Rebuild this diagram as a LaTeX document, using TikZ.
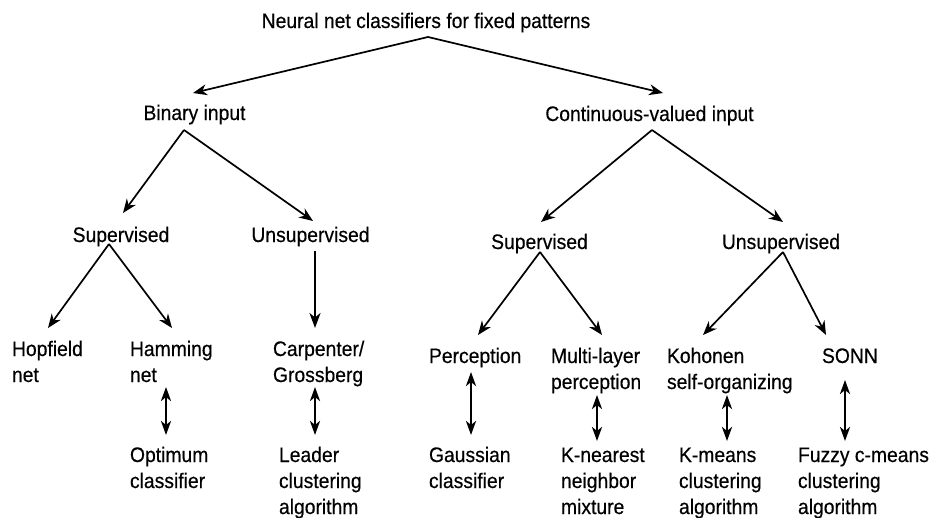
\documentclass[tikz,border=0pt]{standalone}
\usepackage{fontspec}
\setmainfont{Liberation Sans}[FakeStretch=0.92,FakeBold=0.4]
\usetikzlibrary{calc,arrows.meta}
\begin{document}
\begin{tikzpicture}[x=1pt,y=-1pt,
  lbl/.style={inner sep=0pt,outer sep=0pt,font=\fontsize{21}{26}\selectfont},
  mid/.style={lbl,anchor=base},
  % multi-line labels are anchored at the baseline of their last line
  leaf/.style={lbl,anchor=base west,align=left},
  tree/.style={line width=1.7pt,-{Stealth[length=14pt,width=11pt,inset=4.5pt]}},
  down/.style={line width=2.4pt,-{Stealth[length=15pt,width=11pt,inset=4.5pt]}},
  equiv/.style={line width=2.6pt,{Stealth[length=14pt,width=10pt,inset=4pt]}-{Stealth[length=14pt,width=10pt,inset=4pt]}}]
\useasboundingbox (0,0) rectangle (936,517);
\fill[white] (0,0) rectangle (936,517);

% level 0 and 1
\node[mid] (root) at (426,28) {Neural net classifiers for fixed patterns};
\node[mid] (bin)  at (194.5,120) {Binary input};
\node[mid] (cont) at (649.5,121) {Continuous-valued input};

% level 2
\node[mid] (lsup) at (121,242) {Supervised};
\node[mid] (luns) at (310.5,242) {Unsupervised};
\node[mid] (rsup) at (539.5,249) {Supervised};
\node[mid] (runs) at (781,249) {Unsupervised};

% level 3: neural classifiers
\node[leaf] (hop)  at (12,382)  {Hopfield\\net};
\node[leaf] (ham)  at (130,382) {Hamming\\net};
\node[leaf] (car)  at (273,382) {Carpenter/\\Grossberg};
\node[leaf] (per)  at (429,363) {Perception};
\node[leaf] (mlp)  at (551,389) {Multi-layer\\perception};
\node[leaf] (koh)  at (667,389) {Kohonen\\self-organizing};
\node[leaf] (sonn) at (822,363) {SONN};

% level 4: classical counterparts
\node[leaf] (opt) at (130,488) {Optimum\\classifier};
\node[leaf] (lea) at (279,514) {Leader\\clustering\\algorithm};
\node[leaf] (gau) at (429,488) {Gaussian\\classifier};
\node[leaf] (knn) at (561,514) {K-nearest\\neighbor\\mixture};
\node[leaf] (kme) at (679,514) {K-means\\clustering\\algorithm};
\node[leaf] (fcm) at (798,514) {Fuzzy c-means\\clustering\\algorithm};

% tree connectors
\draw[tree] ($(root.base)+(2,9)$) -- ($(bin.base)+(-1.5,-27)$);
\draw[tree] ($(root.base)+(2,9)$) -- ($(cont.base)+(13.5,-28)$);
\draw[tree] ($(bin.base)+(-10.5,10)$) -- ($(lsup.base)+(2,-29)$);
\draw[tree] ($(bin.base)+(-10.5,10)$) -- ($(luns.base)+(2.5,-21)$);
\draw[tree] ($(cont.base)+(2.5,9)$) -- ($(rsup.base)+(1.5,-27)$);
\draw[tree] ($(cont.base)+(2.5,9)$) -- ($(runs.base)+(2,-27)$);
\draw[tree] ($(lsup.base)+(-12,2)$) -- ($(hop.base west)+(36,-54)$);
\draw[tree] ($(lsup.base)+(-12,2)$) -- ($(ham.base west)+(42,-54)$);
\draw[down] ($(luns.base)+(4.5,9)$) -- ($(car.base west)+(42,-54)$);
\draw[tree] ($(rsup.base)+(0.5,3)$) -- ($(per.base west)+(49,-28)$);
\draw[tree] ($(rsup.base)+(0.5,3)$) -- ($(mlp.base west)+(51,-54)$);
\draw[tree] ($(runs.base)+(2,3)$) -- ($(koh.base west)+(36,-54)$);
\draw[tree] ($(runs.base)+(2,3)$) -- ($(sonn.base west)+(4,-28)$);

% equivalences
\draw[equiv] ($(ham.base west)+(36,5)$) -- ($(opt.base west)+(36,-53)$);
\draw[equiv] ($(car.base west)+(42,5)$) -- ($(lea.base west)+(36,-79)$);
\draw[equiv] ($(per.base west)+(42,9)$) -- ($(gau.base west)+(42,-53)$);
\draw[equiv] ($(mlp.base west)+(46,6)$) -- ($(knn.base west)+(36,-73)$);
\draw[equiv] ($(koh.base west)+(60,6)$) -- ($(kme.base west)+(48,-73)$);
\draw[equiv] ($(sonn.base west)+(23,17)$) -- ($(fcm.base west)+(47,-73)$);
\end{tikzpicture}
\end{document}
